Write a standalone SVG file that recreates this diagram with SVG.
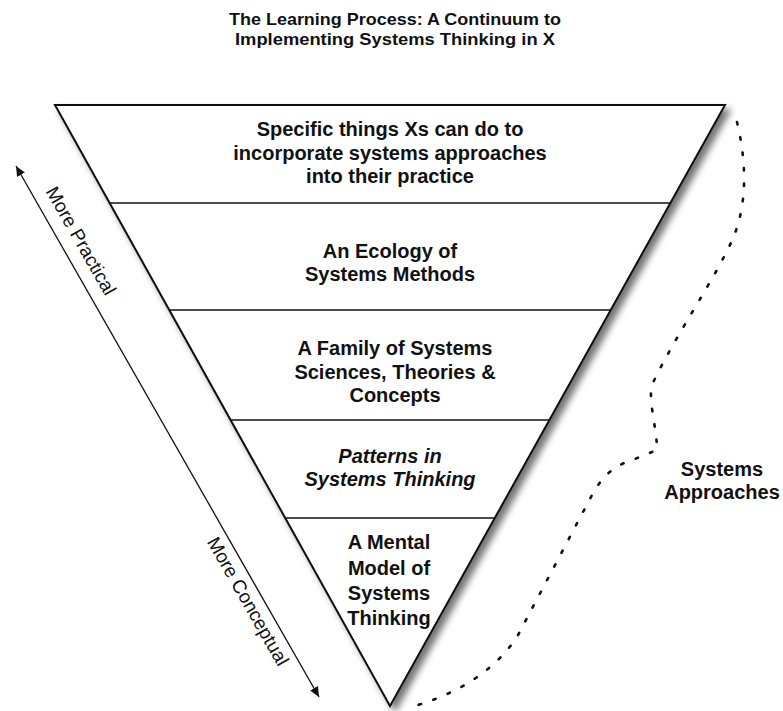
<svg xmlns="http://www.w3.org/2000/svg" width="783" height="711" viewBox="0 0 783 711">
<defs>
<style>
.t{font-family:"Liberation Sans",Arial,sans-serif;font-weight:bold;font-size:20px;fill:#111;text-anchor:middle}
.ti{font-family:"Liberation Sans",Arial,sans-serif;font-weight:bold;font-size:17px;fill:#111;text-anchor:middle}
.lab{font-family:"Liberation Sans",Arial,sans-serif;font-size:19px;fill:#111;text-anchor:middle}
.sep{stroke:#111;stroke-width:1.5;fill:none}
.arr{stroke:#111;stroke-width:1.3;fill:none}
.dot{stroke:#111;stroke-width:2.6;fill:none;stroke-dasharray:2.5 13;stroke-linecap:round}
</style>
<filter id="sh" x="-10%" y="-10%" width="130%" height="130%">
<feGaussianBlur in="SourceAlpha" stdDeviation="3.5"/>
<feOffset dx="5" dy="5" result="b"/>
<feComponentTransfer><feFuncA type="linear" slope="0.55"/></feComponentTransfer>
<feMerge><feMergeNode/><feMergeNode in="SourceGraphic"/></feMerge>
</filter>
<marker id="ah" viewBox="0 0 10 10" refX="10" refY="5" markerWidth="10" markerHeight="10" markerUnits="userSpaceOnUse" orient="auto-start-reverse">
<path d="M0,0.5 L10,5 L0,9.5 z" fill="#111"/>
</marker>
</defs>
<rect width="783" height="711" fill="#fff"/>
<g id="title">
<text class="ti" x="395" y="25" textLength="332" lengthAdjust="spacingAndGlyphs">The Learning Process: A Continuum to</text>
<text class="ti" x="395" y="45" textLength="320" lengthAdjust="spacingAndGlyphs">Implementing Systems Thinking in X</text>
</g>
<g id="triangle">
<polygon points="55,105 725,105 390,706" fill="#fff" stroke="#111" stroke-width="2" stroke-linejoin="miter" filter="url(#sh)"/>
<line class="sep" x1="109.6" y1="203" x2="670.4" y2="203"/>
<line class="sep" x1="169.3" y1="310" x2="610.7" y2="310"/>
<line class="sep" x1="230.6" y1="420" x2="549.4" y2="420"/>
<line class="sep" x1="285.2" y1="518" x2="494.8" y2="518"/>
</g>
<g id="level1">
<text class="t" x="390" y="136">Specific things Xs can do to</text>
<text class="t" x="390" y="159.5">incorporate systems approaches</text>
<text class="t" x="390" y="183">into their practice</text>
</g>
<g id="level2">
<text class="t" x="390" y="258">An Ecology of</text>
<text class="t" x="390" y="281">Systems Methods</text>
</g>
<g id="level3">
<text class="t" x="395" y="355">A Family of Systems</text>
<text class="t" x="395" y="378.5">Sciences, Theories &amp;</text>
<text class="t" x="395" y="402">Concepts</text>
</g>
<g id="level4">
<text class="t" x="390" y="463" font-style="italic">Patterns in</text>
<text class="t" x="390" y="486" font-style="italic">Systems Thinking</text>
</g>
<g id="level5">
<text class="t" x="389" y="549">A Mental</text>
<text class="t" x="389" y="575">Model of</text>
<text class="t" x="389" y="600">Systems</text>
<text class="t" x="389" y="625">Thinking</text>
</g>
<g id="connectors">
<line class="arr" x1="319" y1="697" x2="16" y2="166" marker-start="url(#ah)" marker-end="url(#ah)"/>
<path class="dot" d="M737,122 C746,160 748,200 734,236 C715,280 675,335 651,387 C650,410 657,430 657,450 L630,461 C612,466 600,480 592,495 L517,637 C495,670 460,692 418,705"/>
</g>
<g id="axis-labels">
<text class="lab" transform="translate(75.4,244) rotate(60.3)">More Practical</text>
<text class="lab" transform="translate(242.4,604.5) rotate(60.3)">More Conceptual</text>
</g>
<g id="systems-approaches">
<text class="t" x="722" y="476">Systems</text>
<text class="t" x="722" y="499">Approaches</text>
</g>
</svg>
